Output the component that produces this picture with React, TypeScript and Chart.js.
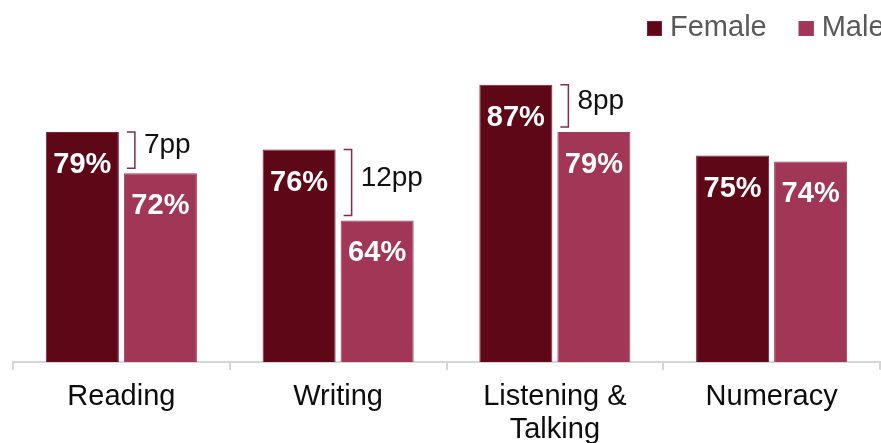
import { useEffect, useRef } from "react";
import { Chart, registerables } from "chart.js";

Chart.register(...registerables);

const categories: string[][] = [["Reading"], ["Writing"], ["Listening &", "Talking"], ["Numeracy"]];
const femaleValues = [79, 76, 87, 75];
const maleValues = [72, 64, 79, 74];
const gapLabels: (string | null)[] = ["7pp", "12pp", "8pp", null];
const seriesNames = ["Female", "Male"];

const FONT = '"Liberation Sans", Arial, Helvetica, sans-serif';
const FEMALE = "#5e0717";
const FEMALE_BORDER = "#8c1a3c";
const MALE = "#a13656";
const MALE_BORDER = "#a83a5c";
const BRACKET = "#8a2a48";

const valueLabelPlugin = {
  id: "valueLabels",
  afterDatasetsDraw(chart: any) {
    const ctx = chart.ctx;
    ctx.save();
    ctx.font = `bold 29px ${FONT}`;
    ctx.fillStyle = "#ffffff";
    ctx.textAlign = "center";
    ctx.textBaseline = "middle";
    chart.data.datasets.forEach((ds: any, di: number) => {
      const meta = chart.getDatasetMeta(di);
      meta.data.forEach((bar: any, i: number) => {
        ctx.fillText(`${ds.data[i]}%`, bar.x, bar.y + 33);
      });
    });
    ctx.restore();
  },
};

const bracketPlugin = {
  id: "gapBrackets",
  afterDatasetsDraw(chart: any) {
    const ctx = chart.ctx;
    const f = chart.getDatasetMeta(0).data;
    const m = chart.getDatasetMeta(1).data;
    ctx.save();
    gapLabels.forEach((lab, i) => {
      if (!lab) return;
      const fb = f[i];
      const mb = m[i];
      const right = fb.x + fb.width / 2;
      const top = fb.y;
      const bottom = mb.y - 5;
      const vx = right + 16;
      ctx.strokeStyle = BRACKET;
      ctx.lineWidth = 1.5;
      ctx.beginPath();
      ctx.moveTo(right + 8, top);
      ctx.lineTo(vx, top);
      ctx.lineTo(vx, bottom);
      ctx.lineTo(right + 8, bottom);
      ctx.stroke();
      ctx.font = `28px ${FONT}`;
      ctx.fillStyle = "#111111";
      ctx.textAlign = "left";
      ctx.textBaseline = "alphabetic";
      ctx.fillText(lab, vx + 9, (top + bottom) / 2 + 3);
    });
    ctx.restore();
  },
};

const legendPlugin = {
  id: "customLegend",
  afterDraw(chart: any) {
    const ctx = chart.ctx;
    ctx.save();
    ctx.font = `29px ${FONT}`;
    ctx.textBaseline = "alphabetic";
    ctx.textAlign = "left";
    let x = chart.width - 234;
    const y = 21;
    chart.data.datasets.forEach((ds: any, i: number) => {
      ctx.fillStyle = ds.backgroundColor;
      ctx.fillRect(x, y, 15, 15);
      ctx.strokeStyle = ds.borderColor;
      ctx.lineWidth = 1;
      ctx.strokeRect(x + 0.5, y + 0.5, 14, 14);
      ctx.fillStyle = "#595959";
      ctx.fillText(seriesNames[i], x + 23, 36);
      x += 23 + ctx.measureText(seriesNames[i]).width + 32;
    });
    ctx.restore();
  },
};

export default function App() {
  const ref = useRef<HTMLCanvasElement | null>(null);
  useEffect(() => {
    if (!ref.current) return;
    const chart = new Chart(ref.current, {
      type: "bar",
      data: {
        labels: categories as any,
        datasets: [
          {
            label: seriesNames[0],
            data: femaleValues,
            backgroundColor: FEMALE,
            borderColor: FEMALE_BORDER,
            borderWidth: 1,
            barPercentage: 0.936,
            categoryPercentage: 0.72,
          },
          {
            label: seriesNames[1],
            data: maleValues,
            backgroundColor: MALE,
            borderColor: MALE_BORDER,
            borderWidth: 1,
            barPercentage: 0.936,
            categoryPercentage: 0.72,
          },
        ],
      },
      options: {
        responsive: false,
        animation: false,
        devicePixelRatio: 1,
        layout: { padding: { left: 13, right: 1, top: 8, bottom: 0 } },
        plugins: {
          legend: { display: false },
          tooltip: { enabled: false },
        },
        scales: {
          y: {
            display: false,
            min: 40,
            max: 100,
          },
          x: {
            afterFit(scale: any) {
              scale.height = 81;
            },
            grid: {
              display: true,
              offset: true,
              drawOnChartArea: false,
              drawTicks: true,
              tickLength: 8,
              color: "#d6d6d6",
              lineWidth: 2,
            },
            border: { display: true, color: "#d6d6d6", width: 2 },
            ticks: {
              color: "#0d0d0d",
              padding: 11,
              maxRotation: 0,
              autoSkip: false,
              font: { family: FONT, size: 29, lineHeight: 1.12 },
            },
          },
        },
      },
      plugins: [valueLabelPlugin, bracketPlugin, legendPlugin],
    });
    return () => chart.destroy();
  }, []);
  return (
    <div style={{ position: "fixed", left: 0, top: 0, width: 881, height: 443, background: "#fff" }}>
      <canvas ref={ref} width={881} height={443} style={{ display: "block", width: 881, height: 443 }} />
    </div>
  );
}
